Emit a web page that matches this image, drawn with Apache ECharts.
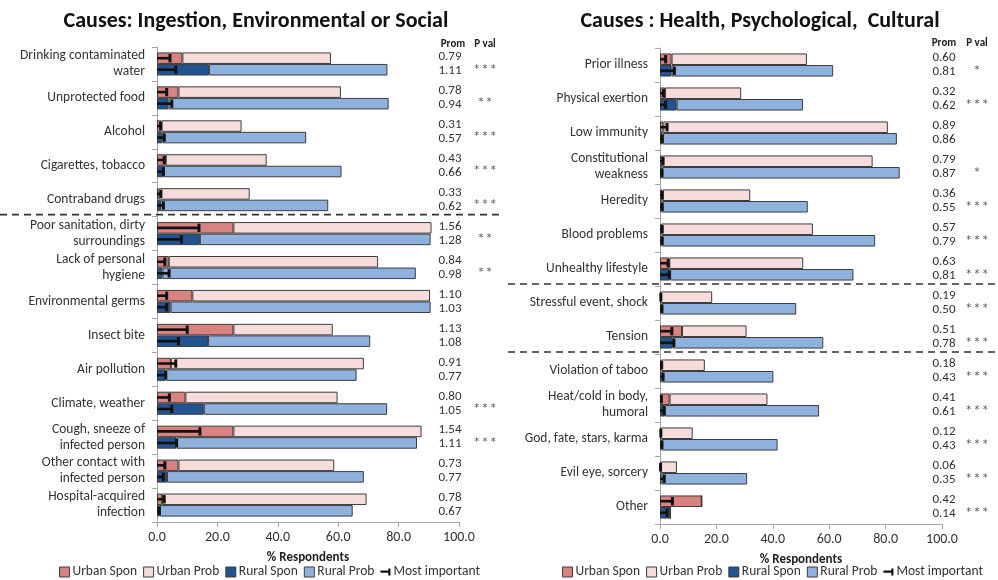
<!DOCTYPE html>
<html>
<head>
<meta charset="utf-8">
<script src="https://cdn.jsdelivr.net/npm/echarts@6/dist/echarts.min.js"></script>
<style>
  html, body { margin: 0; padding: 0; background: #fff; }
  #chart { width: 998px; height: 580px; }
</style>
</head>
<body>
<div id="chart"></div>
<script>
// ---- Causes: Ingestion, Environmental or Social ----
const leftCats = ["Drinking contaminated\nwater", "Unprotected food", "Alcohol", "Cigarettes, tobacco", "Contraband drugs",
  "Poor sanitation, dirty\nsurroundings", "Lack of personal\nhygiene", "Environmental germs", "Insect bite", "Air pollution",
  "Climate, weather", "Cough, sneeze of\ninfected person", "Other contact with\ninfected person", "Hospital-acquired\ninfection"];
const leftUrbanSpon  = [8.4, 7.1, 1.5, 2.9, 0.5, 25.3, 3.9, 11.7, 25.3, 4.6, 9.4, 25.3, 7.1, 1.7];
const leftUrbanTotal = [57.6, 60.9, 28.0, 36.3, 30.7, 90.9, 73.2, 90.4, 58.2, 68.5, 59.8, 87.6, 58.7, 69.4];
const leftUrbanMost  = [4.3, 3.2, 1.2, 2.4, 1.3, 13.9, 2.6, 3.2, 10.0, 6.2, 4.1, 14.2, 2.6, 2.4];
const leftRuralSpon  = [17.2, 3.8, 1.8, 2.3, 1.0, 14.2, 1.8, 4.5, 16.9, 2.9, 15.5, 6.5, 3.3, 0.9];
const leftRuralTotal = [76.3, 76.7, 49.4, 61.1, 56.7, 90.6, 85.7, 90.6, 70.6, 66.1, 76.2, 86.1, 68.5, 64.8];
const leftRuralMost  = [6.2, 4.9, 2.4, 2.1, 2.1, 8.1, 4.0, 3.2, 7.1, 2.9, 4.9, 6.5, 2.1, 0.8];
const leftPromUrban  = ["0.79", "0.78", "0.31", "0.43", "0.33", "1.56", "0.84", "1.10", "1.13", "0.91", "0.80", "1.54", "0.73", "0.78"];
const leftPromRural  = ["1.11", "0.94", "0.57", "0.66", "0.62", "1.28", "0.98", "1.03", "1.08", "0.77", "1.05", "1.11", "0.77", "0.67"];
const leftPval       = ["***", "**", "***", "***", "***", "**", "**", "", "", "", "***", "***", "", ""];
const leftGroupBreaks = [4];

// ---- Causes : Health, Psychological, Cultural ----
const rightCats = ["Prior illness", "Physical exertion", "Low immunity", "Constitutional\nweakness", "Heredity",
  "Blood problems", "Unhealthy lifestyle", "Stressful event, shock", "Tension", "Violation of taboo",
  "Heat/cold in body,\nhumoral", "God, fate, stars, karma", "Evil eye, sorcery", "Other"];
const rightUrbanSpon  = [4.1, 1.8, 1.2, 0.8, 0.9, 0.5, 3.3, 0.3, 7.8, 0.4, 3.4, 0.3, 0.3, 14.8];
const rightUrbanTotal = [52.1, 28.8, 80.8, 75.4, 32.0, 54.2, 50.8, 18.5, 30.7, 15.9, 38.1, 11.6, 6.0, 14.8];
const rightUrbanMost  = [2.0, 1.2, 2.5, 1.1, 0.8, 0.8, 2.9, 0.3, 4.2, 0.6, 0.5, 0.3, 0.2, 4.4];
const rightRuralSpon  = [4.1, 5.9, 0.9, 0.8, 0.5, 0.5, 3.6, 0.5, 4.5, 0.5, 1.8, 0.5, 0.5, 3.7];
const rightRuralTotal = [61.4, 50.7, 84.0, 85.0, 52.4, 76.3, 68.6, 48.3, 57.9, 40.2, 56.4, 41.7, 30.9, 3.7];
const rightRuralMost  = [5.1, 2.0, 0.8, 0.7, 0.8, 0.8, 3.3, 0.7, 4.9, 1.1, 1.4, 0.7, 1.5, 2.5];
const rightPromUrban  = ["0.60", "0.32", "0.89", "0.79", "0.36", "0.57", "0.63", "0.19", "0.51", "0.18", "0.41", "0.12", "0.06", "0.42"];
const rightPromRural  = ["0.81", "0.62", "0.86", "0.87", "0.55", "0.79", "0.81", "0.50", "0.78", "0.43", "0.61", "0.43", "0.35", "0.14"];
const rightPval       = ["*", "***", "", "*", "***", "***", "***", "***", "***", "***", "***", "***", "***", "***"];
const rightGroupBreaks = [6, 8];

const xTicks = [0, 20, 40, 60, 80, 100];

const FONT = "Carlito, Calibri, Lato, 'Noto Sans', sans-serif";
const STAR_FONT = "'DejaVu Sans', sans-serif";
const COLORS = { urbanSpon: "#d8837f", urbanProb: "#f7dcdc", ruralSpon: "#215490", ruralProb: "#8fb1de" };
const EDGE = "#3d3d3d";
const GAP = 0.32;   // barCategoryGap as a fraction

const panels = [
  {
    cats: leftCats, uS: leftUrbanSpon, uT: leftUrbanTotal, uM: leftUrbanMost,
    rS: leftRuralSpon, rT: leftRuralTotal, rM: leftRuralMost,
    pU: leftPromUrban, pR: leftPromRural, pv: leftPval, breaks: leftGroupBreaks,
    grid: { left: 157, right: 539, top: 47, bottom: 58 },
    promDx: -9, starDx: 26, sepFrom: 0, sepTo: 500,
    title: "Causes: Ingestion, Environmental or Social", titleX: 256,
    legendLeft: 59
  },
  {
    cats: rightCats, uS: rightUrbanSpon, uT: rightUrbanTotal, uM: rightUrbanMost,
    rS: rightRuralSpon, rT: rightRuralTotal, rM: rightRuralMost,
    pU: rightPromUrban, pR: rightPromRural, pv: rightPval, breaks: rightGroupBreaks,
    grid: { left: 660, right: 56, top: 48, bottom: 56 },
    promDx: 2, starDx: 35, sepFrom: 508, sepTo: 996,
    title: "Causes : Health, Psychological,  Cultural", titleX: 760,
    legendLeft: 562
  }
];

const grids = [], xAxes = [], yAxes = [], series = [], legends = [], graphics = [];

panels.forEach((p, i) => {
  grids.push(Object.assign({ containLabel: false }, p.grid));
  xAxes.push({
    type: "value", gridIndex: i, min: xTicks[0], max: xTicks[xTicks.length - 1], interval: xTicks[1] - xTicks[0],
    axisLine: { show: true, lineStyle: { color: "#a6a6a6", width: 1 } },
    axisTick: { show: true, length: 5, lineStyle: { color: "#a6a6a6" } },
    splitLine: { show: false },
    axisLabel: { color: "#333", fontFamily: FONT, fontSize: 14, margin: 8, formatter: v => v.toFixed(1) },
    name: "% Respondents", nameLocation: "middle", nameGap: 29,
    nameTextStyle: { color: "#222", fontFamily: FONT, fontSize: 13, fontWeight: "bold" }
  });
  yAxes.push({
    type: "category", gridIndex: i, data: p.cats, inverse: true,
    axisLine: { show: true, lineStyle: { color: "#a6a6a6", width: 1 } },
    axisTick: { show: true, length: 5, inside: false, lineStyle: { color: "#a6a6a6" } },
    axisLabel: { color: "#333", fontFamily: FONT, fontSize: 13.5, lineHeight: 16, margin: 12, align: "right" },
    splitLine: { show: false }
  });

  const barBase = {
    type: "bar", xAxisIndex: i, yAxisIndex: i, barGap: "0%", barCategoryGap: (GAP * 100) + "%",
    silent: true, animation: false
  };
  series.push(Object.assign({}, barBase, {
    name: "Urban Spon", stack: "urban" + i, data: p.uS,
    itemStyle: { color: COLORS.urbanSpon, borderColor: EDGE, borderWidth: 1 }
  }));
  series.push(Object.assign({}, barBase, {
    name: "Urban Prob", stack: "urban" + i, data: p.uT.map((t, k) => +(t - p.uS[k]).toFixed(2)),
    itemStyle: { color: COLORS.urbanProb, borderColor: EDGE, borderWidth: 1 }
  }));
  series.push(Object.assign({}, barBase, {
    name: "Rural Spon", stack: "rural" + i, data: p.rS,
    itemStyle: { color: COLORS.ruralSpon, borderColor: EDGE, borderWidth: 1 }
  }));
  series.push(Object.assign({}, barBase, {
    name: "Rural Prob", stack: "rural" + i, data: p.rT.map((t, k) => +(t - p.rS[k]).toFixed(2)),
    itemStyle: { color: COLORS.ruralProb, borderColor: EDGE, borderWidth: 1 }
  }));

  // "Most important" whiskers: a thick line from 0 with a short cap, centred on each bar
  const mostData = [];
  p.uM.forEach((v, k) => mostData.push([v, k, 0]));
  p.rM.forEach((v, k) => mostData.push([v, k, 1]));
  series.push({
    type: "custom", name: "Most important", xAxisIndex: i, yAxisIndex: i, z: 5, silent: true, animation: false,
    encode: { x: 0, y: 1 },
    itemStyle: { color: "#111" },
    data: mostData,
    renderItem: (params, api) => {
      const idx = api.value(1);
      const end = api.coord([api.value(0), idx]);
      const start = api.coord([0, idx]);
      const band = api.size([0, 1])[1];
      const h = band * (1 - GAP) / 2;
      const cy = end[1] + (api.value(2) === 0 ? -h / 2 : h / 2);
      const capH = h * 0.72;
      return {
        type: "group",
        children: [
          { type: "line", shape: { x1: start[0], y1: cy, x2: end[0], y2: cy }, style: { stroke: "#111", lineWidth: 2.6 } },
          { type: "rect", shape: { x: end[0] - 1.5, y: cy - capH / 2, width: 3, height: capH }, style: { fill: "#111" } }
        ]
      };
    }
  });

  // Prominence values and significance stars beside the bars
  series.push({
    type: "custom", xAxisIndex: i, yAxisIndex: i, silent: true, animation: false, z: 6,
    encode: { x: 0, y: 1 },
    data: p.cats.map((c, k) => [100, k]),
    renderItem: (params, api) => {
      const k = api.value(1);
      const pt = api.coord([100, k]);
      const x = pt[0] + p.promDx;
      const txt = (t, xx, yy, font, fill) => ({
        type: "text",
        style: { text: t, x: xx, y: yy, fill: fill, font: font, textAlign: "center", textVerticalAlign: "middle" }
      });
      return {
        type: "group",
        children: [
          txt(p.pU[k], x, pt[1] - 7, "13px " + FONT, "#333"),
          txt(p.pR[k], x, pt[1] + 7, "13px " + FONT, "#333"),
          txt(p.pv[k].split("").join(" "), pt[0] + p.starDx, pt[1] + 5, "10px " + STAR_FONT, "#555")
        ]
      };
    }
  });

  // Dashed separators between cause groups
  series.push({
    type: "custom", xAxisIndex: i, yAxisIndex: i, silent: true, animation: false, z: 6,
    encode: { x: 0, y: 1 },
    data: p.breaks.map(b => [0, b]),
    renderItem: (params, api) => {
      const pt = api.coord([0, api.value(1)]);
      const band = api.size([0, 1])[1];
      const y = pt[1] + band / 2 - 2;
      return {
        type: "line",
        shape: { x1: p.sepFrom, y1: y, x2: p.sepTo, y2: y },
        style: { stroke: "#333", lineWidth: 1.6, lineDash: [7, 5] }
      };
    }
  });

  legends.push({
    left: p.legendLeft, top: 565, width: 460, padding: 0,
    itemWidth: 10, itemHeight: 10, itemGap: 6,
    selectedMode: false,
    textStyle: { color: "#333", fontFamily: FONT, fontSize: 13.5, padding: [0, 0, 0, -2] },
    data: [
      { name: "Urban Spon", icon: "rect", itemStyle: { color: COLORS.urbanSpon, borderColor: EDGE, borderWidth: 1 } },
      { name: "Urban Prob", icon: "rect", itemStyle: { color: COLORS.urbanProb, borderColor: EDGE, borderWidth: 1 } },
      { name: "Rural Spon", icon: "rect", itemStyle: { color: COLORS.ruralSpon, borderColor: EDGE, borderWidth: 1 } },
      { name: "Rural Prob", icon: "rect", itemStyle: { color: COLORS.ruralProb, borderColor: EDGE, borderWidth: 1 } },
      { name: "Most important", icon: "path://M0,5 L11,5 L11,2 L14,2 L14,12 L11,12 L11,8 L0,8 Z", itemStyle: { color: "#111", borderWidth: 0 } }
    ]
  });

  graphics.push({
    type: "text", x: p.titleX, y: 21,
    style: { text: p.title, font: "bold 22px " + FONT, fill: "#111", textAlign: "center", textVerticalAlign: "middle" }
  });
});

// Column headings above the prominence / p-value columns
graphics.push(
  { type: "text", x: 453, y: 44, style: { text: "Prom", font: "bold 11px " + FONT, fill: "#222", textAlign: "center", textVerticalAlign: "middle" } },
  { type: "text", x: 485, y: 44, style: { text: "P val", font: "bold 11px " + FONT, fill: "#222", textAlign: "center", textVerticalAlign: "middle" } },
  { type: "text", x: 944, y: 43, style: { text: "Prom", font: "bold 11px " + FONT, fill: "#222", textAlign: "center", textVerticalAlign: "middle" } },
  { type: "text", x: 977, y: 43, style: { text: "P val", font: "bold 11px " + FONT, fill: "#222", textAlign: "center", textVerticalAlign: "middle" } }
);

const chart = echarts.init(document.getElementById("chart"), null, { renderer: "canvas" });
chart.setOption({
  animation: false,
  backgroundColor: "#fff",
  textStyle: { fontFamily: FONT },
  grid: grids,
  xAxis: xAxes,
  yAxis: yAxes,
  legend: legends,
  series: series,
  graphic: graphics
});
</script>
</body>
</html>
